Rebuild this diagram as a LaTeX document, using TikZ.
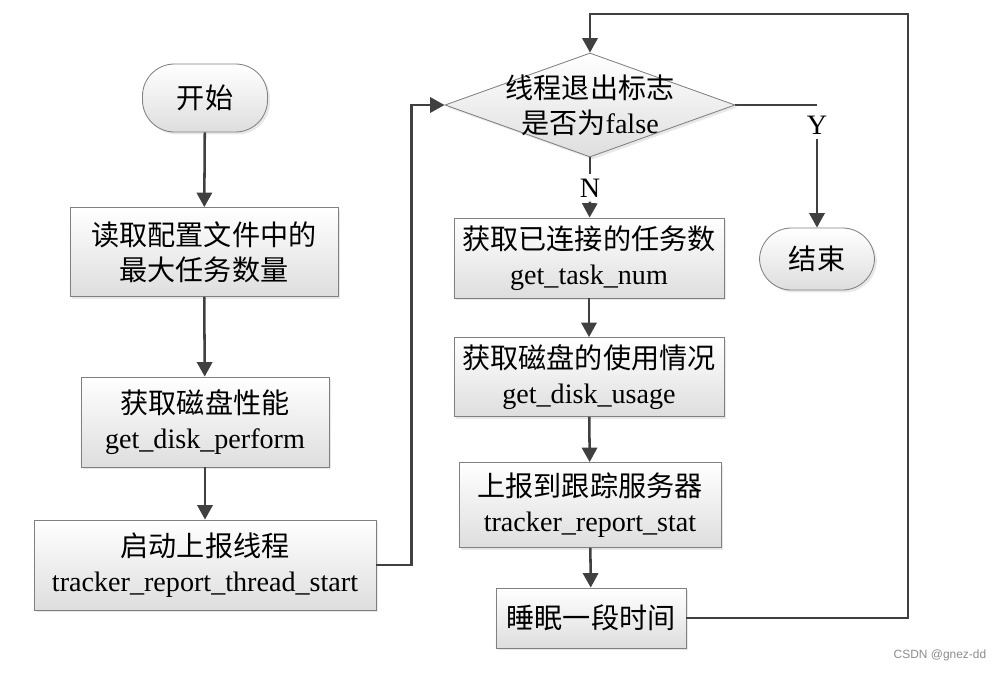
\documentclass[tikz,border=0pt]{standalone}
\usepackage{fontspec}
\setmainfont{Liberation Serif}
\setsansfont{Liberation Sans}
\newfontfamily\cjk{Noto Sans CJK SC}
\usetikzlibrary{arrows.meta,shapes.geometric,shadows}

\begin{document}
\begin{tikzpicture}[x=0.025cm,y=-0.025cm,
        mybox/.style={draw=black!50,line width=0.6pt,top color=white,bottom color=black!13,align=center,inner sep=0pt,font=\fontsize{20}{25}\selectfont,drop shadow={shadow xshift=0.06cm,shadow yshift=-0.06cm,opacity=0.18}},
        myterm/.style={mybox,rounded corners=0.8cm},
        mydecision/.style={mybox,diamond,aspect=2.8},
        mylabel/.style={font=\fontsize{20}{24}\selectfont,inner sep=3pt},
        myline/.style={draw=black!75,line width=1.8pt},
        myflow/.style={myline,-{Triangle[width=0.38cm,length=0.36cm]}}]
        
        \useasboundingbox (0,0) rectangle (1001,672);
        
        %left column
        \node[myterm,minimum width=3.125cm,minimum height=1.7cm] (start) at (205,98) {\cjk 开始};
        \node[mybox,minimum width=6.7cm,minimum height=2.225cm] (read) at (204,252) {\cjk 读取配置文件中的\\\cjk 最大任务数量};
        \node[mybox,minimum width=6.2cm,minimum height=2.25cm] (perf) at (205,422) {\cjk 获取磁盘性能\\get\_disk\_perform};
        \node[mybox,minimum width=8.55cm,minimum height=2.25cm] (thread) at (205,565) {\cjk 启动上报线程\\tracker\_report\_thread\_start};
        
        %decision
        \node[mydecision,minimum width=7.25cm,minimum height=2.6cm,label={[align=center,font=\fontsize{20}{25}\selectfont]center:{\cjk 线程退出标志}\\{\cjk 是否为}false}] (flag) at (590,105) {};
        \node[mylabel] (N) at (590,188) {N};
        \node[mylabel] (Y) at (817,125) {Y};
        
        %right column
        \node[mybox,minimum width=6.75cm,minimum height=2cm] (tasks) at (589,258) {\cjk 获取已连接的任务数\\get\_task\_num};
        \node[mybox,minimum width=6.75cm,minimum height=1.975cm] (usage) at (589,377) {\cjk 获取磁盘的使用情况\\get\_disk\_usage};
        \node[mybox,minimum width=6.55cm,minimum height=2.125cm] (report) at (590,505) {\cjk 上报到跟踪服务器\\tracker\_report\_stat};
        \node[mybox,minimum width=4.75cm,minimum height=1.5cm] (sleep) at (591,618) {\cjk 睡眠一段时间};
        \node[myterm,minimum width=2.875cm,minimum height=1.55cm] (end) at (817,259) {\cjk 结束};
        
        \coordinate (loop) at (908,14);
        
        %vertical arrow
        \draw[myflow] (start) -- (read);
        \draw[myflow] (read) -- (perf);
        \draw[myflow] (perf) -- (thread);
        \draw[myline] (flag.south) -- (N);
        \draw[myflow] (N) -- (tasks);
        \draw[myflow] (tasks) -- (usage);
        \draw[myflow] (usage) -- (report);
        \draw[myflow] (report) -- (sleep);
        \draw[myline] (flag.east) -- (flag.east -| Y);
        \draw[myflow] (Y) -- (end);
        
        %loop back
        \draw[myflow] (thread.east) -- ++(35,0) |- (flag.west);
        \draw[myflow] (sleep.east) -| (loop) -| (flag.north);
        
        \node[font=\sffamily\fontsize{8.5}{10}\selectfont,text=black!45] (mark) at (940,655) {CSDN @gnez-dd};
        \end{tikzpicture}
\end{document}
